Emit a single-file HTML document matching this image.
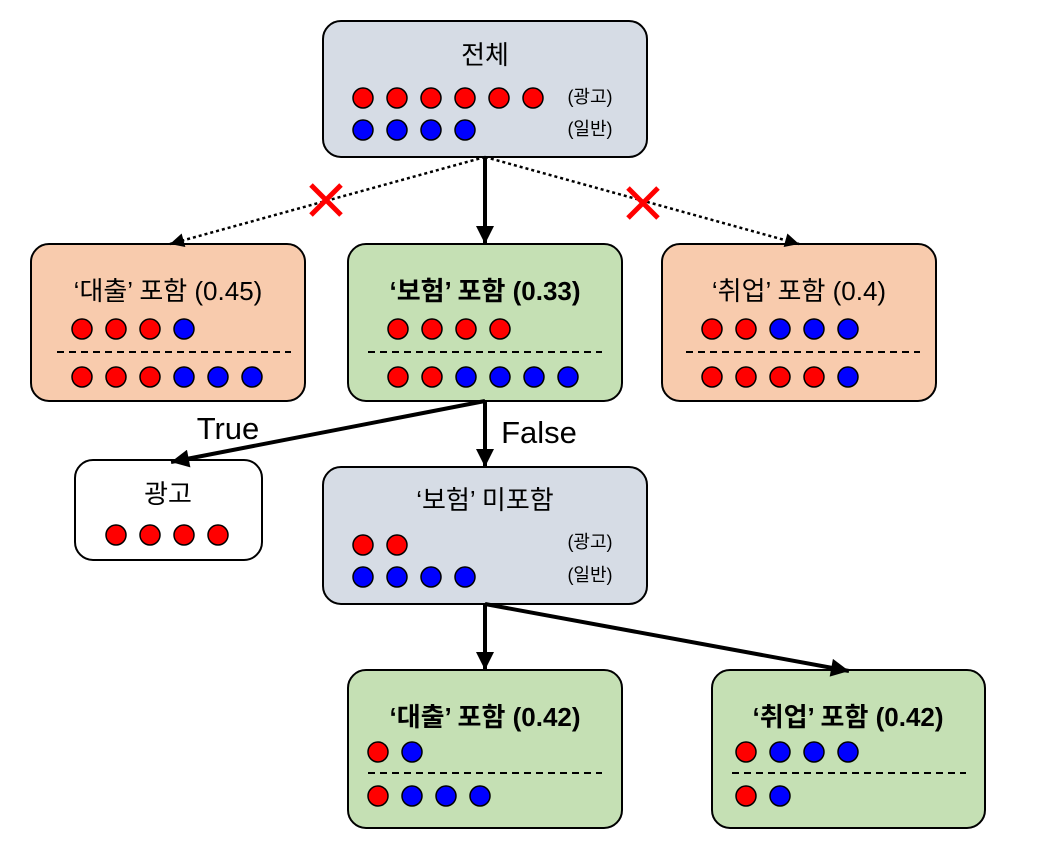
<!DOCTYPE html>
<html><head><meta charset="utf-8"><style>
html,body{margin:0;padding:0;background:#fff}
svg{display:block}
text{font-family:"Liberation Sans","Noto Sans CJK KR",sans-serif;fill:#000}
</style></head><body>
<svg width="1042" height="845" viewBox="0 0 1042 845">
<defs>
<marker id="ah" viewBox="0 0 10 10" refX="10" refY="5" markerWidth="22" markerHeight="18" orient="auto" markerUnits="userSpaceOnUse">
<path d="M0,0 L10,5 L0,10 z" fill="#000"/>
</marker>
<marker id="ahs" viewBox="0 0 10 10" refX="10" refY="5" markerWidth="18" markerHeight="14" orient="auto" markerUnits="userSpaceOnUse">
<path d="M0,0 L10,5 L0,10 z" fill="#000"/>
</marker>
</defs>
<g id="nodes"></g>
<g id="edges">
<line x1="485" y1="157" x2="170" y2="244" stroke="#000" stroke-width="2.5" stroke-dasharray="3,3" marker-end="url(#ahs)"/>
<line x1="485" y1="157" x2="485" y2="244" stroke="#000" stroke-width="4" marker-end="url(#ah)"/>
<line x1="485" y1="157" x2="799" y2="244" stroke="#000" stroke-width="2.5" stroke-dasharray="3,3" marker-end="url(#ahs)"/>
<line x1="485" y1="401" x2="171" y2="462" stroke="#000" stroke-width="4" marker-end="url(#ah)"/>
<line x1="485" y1="401" x2="485" y2="467" stroke="#000" stroke-width="4" marker-end="url(#ah)"/>
<line x1="485" y1="604" x2="485" y2="670" stroke="#000" stroke-width="4" marker-end="url(#ah)"/>
<line x1="485" y1="604" x2="849" y2="671" stroke="#000" stroke-width="4" marker-end="url(#ah)"/>
<g stroke="#f00" stroke-width="5"><line x1="311" y1="185" x2="341" y2="215"/><line x1="341" y1="185" x2="311" y2="215"/></g>
<g stroke="#f00" stroke-width="5"><line x1="628" y1="188" x2="658" y2="218"/><line x1="658" y1="188" x2="628" y2="218"/></g>
<text x="228" y="439" font-size="31" text-anchor="middle">True</text>
<text x="539" y="443" font-size="31" text-anchor="middle">False</text>
</g>
</svg>
<script>
const R='#f00',B='#00f';
const nodes=[
 {name:'root-node',x:323,y:21,w:324,h:136,fill:'#d6dce5',title:'전체',tx:485,ty:64,bold:false,
  rows:[{y:98,c:[R,R,R,R,R,R],x0:363},{y:130,c:[B,B,B,B],x0:363}],labels:[['(광고)',590,103],['(일반)',590,135]]},
 {name:'loan-node',x:31,y:244,w:274,h:157,fill:'#f8cbad',title:'‘대출’ 포함 (0.45)',tx:168,ty:300,
  rows:[{y:329,c:[R,R,R,B],x0:82},{y:377,c:[R,R,R,B,B,B],x0:82}],dash:[57,291]},
 {name:'insurance-node',x:348,y:244,w:274,h:157,fill:'#c5e0b4',title:'‘보험’ 포함 (0.33)',tx:485,ty:300,bold:true,
  rows:[{y:329,c:[R,R,R,R],x0:398},{y:377,c:[R,R,B,B,B,B],x0:398}],dash:[368,602]},
 {name:'job-node',x:662,y:244,w:274,h:157,fill:'#f8cbad',title:'‘취업’ 포함 (0.4)',tx:799,ty:300,
  rows:[{y:329,c:[R,R,B,B,B],x0:712},{y:377,c:[R,R,R,R,B],x0:712}],dash:[686,920]},
 {name:'ad-leaf',x:75,y:460,w:187,h:100,fill:'#ffffff',title:'광고',tx:168,ty:503,
  rows:[{y:535,c:[R,R,R,R],x0:116}]},
 {name:'no-insurance-node',x:323,y:467,w:324,h:137,fill:'#d6dce5',title:'‘보험’ 미포함',tx:485,ty:509,
  rows:[{y:545,c:[R,R],x0:363},{y:577,c:[B,B,B,B],x0:363}],labels:[['(광고)',590,548],['(일반)',590,581]]},
 {name:'loan-node-2',x:348,y:670,w:274,h:158,fill:'#c5e0b4',title:'‘대출’ 포함 (0.42)',tx:485,ty:726,bold:true,
  rows:[{y:752,c:[R,B],x0:378},{y:796,c:[R,B,B,B],x0:378}],dash:[368,602]},
 {name:'job-node-2',x:712,y:670,w:273,h:158,fill:'#c5e0b4',title:'‘취업’ 포함 (0.42)',tx:848,ty:726,bold:true,
  rows:[{y:752,c:[R,B,B,B],x0:746},{y:796,c:[R,B],x0:746}],dash:[732,966]}
];
const NS='http://www.w3.org/2000/svg';
const g=document.getElementById('nodes');
function mk(t,a,p){const e=document.createElementNS(NS,t);for(const k in a)e.setAttribute(k,a[k]);p.appendChild(e);return e;}
nodes.forEach(n=>{
 const grp=mk('g',{},g);
 
 
 mk('rect',{x:n.x,y:n.y,width:n.w,height:n.h,rx:18,fill:n.fill,stroke:'#000','stroke-width':2},grp);
 const t=mk('text',{x:n.tx,y:n.ty,'font-size':26,'text-anchor':'middle','font-weight':n.bold?'bold':'normal'},grp);
 t.textContent=n.title;
 
 
 n.rows.forEach(r=>r.c.forEach((c,i)=>{
  const ci=mk('circle',{cx:r.x0+i*34,cy:r.y,r:10,fill:c,stroke:'#000','stroke-width':1.5},grp);
  
  
 }));
 if(n.dash){const yy=n.y===670?773:352;
  const l=mk('line',{x1:n.dash[0],x2:n.dash[1],y1:yy,y2:yy,stroke:'#000','stroke-width':2,'stroke-dasharray':'7,5'},grp);
  
  }
 (n.labels||[]).forEach(L=>{const lt=mk('text',{x:L[1],y:L[2],'font-size':18,'text-anchor':'middle'},grp);lt.textContent=L[0];
  
  });
});
</script>
</body></html>
